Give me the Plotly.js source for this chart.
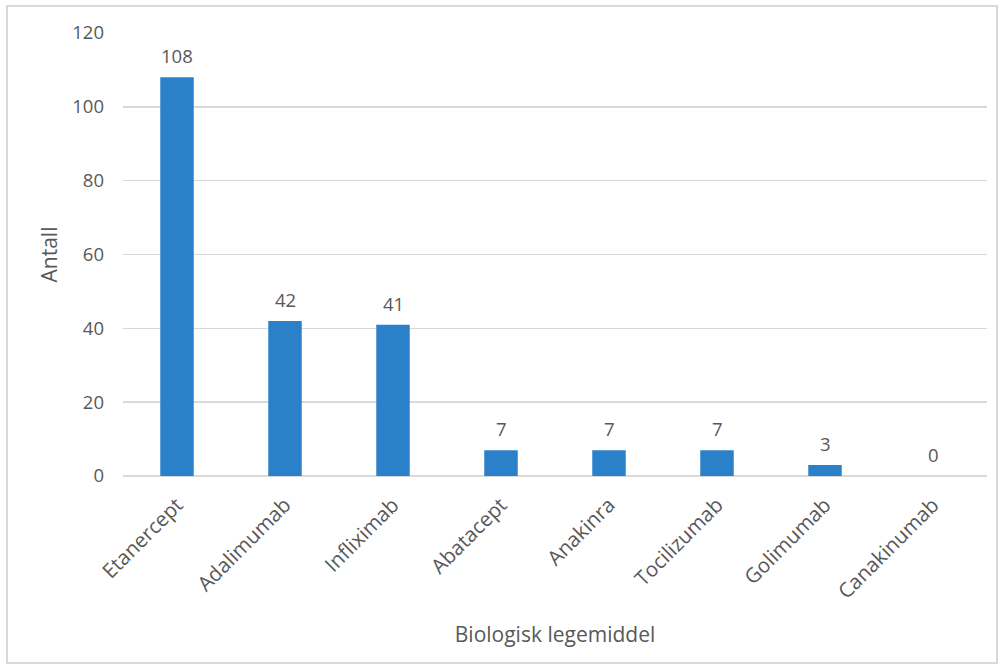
<!DOCTYPE html>
<html>
<head>
<meta charset="utf-8">
<script src="https://cdn.plot.ly/plotly-3.0.1.min.js"></script>
<style>
  html, body { margin: 0; padding: 0; background: #fff; }
  #frame { position: absolute; left: 6px; top: 5px; width: 988px; height: 655px; border: 2px solid #d9d9d9; }
  #chart { position: absolute; left: 0; top: 0; width: 1002px; height: 668px; }
</style>
</head>
<body>
<div id="frame"></div>
<div id="chart"></div>
<script>
// Number of patients per biologic drug
const drugs = ["Etanercept", "Adalimumab", "Infliximab", "Abatacept", "Anakinra", "Tocilizumab", "Golimumab", "Canakinumab"];
const counts = [108, 42, 41, 7, 7, 7, 3, 0];

const barColor = "#2a81c9";
const textColor = "#595959";
const fontFamily = "Open Sans, sans-serif";
const numSize = 18.5;
const catSize = 20.5;
const titleSize = 21;

const trace = {
  type: "bar",
  x: drugs,
  y: counts,
  width: 0.31,
  marker: { color: barColor, line: { width: 0 } },
  hoverinfo: "x+y"
};

// Value labels above each bar
const labels = drugs.map((d, i) => ({
  x: d,
  y: counts[i],
  xref: "x",
  yref: "y",
  text: String(counts[i]),
  showarrow: false,
  yanchor: "bottom",
  yshift: 7,
  font: { family: fontFamily, size: numSize, color: textColor }
}));

const layout = {
  width: 1002,
  height: 668,
  margin: { l: 123, r: 15, t: 33, b: 192 },
  paper_bgcolor: "rgba(0,0,0,0)",
  plot_bgcolor: "rgba(0,0,0,0)",
  showlegend: false,
  font: { family: fontFamily, size: numSize, color: textColor },
  xaxis: {
    type: "category",
    tickangle: -45,
    showgrid: false,
    zeroline: false,
    showline: false,
    ticks: "",
    ticklabelstandoff: 12,
    tickfont: { family: fontFamily, size: catSize, color: textColor },
    title: { text: "Biologisk legemiddel", font: { family: fontFamily, size: titleSize, color: textColor }, standoff: 24 }
  },
  yaxis: {
    range: [0, 120],
    dtick: 20,
    showgrid: true,
    gridcolor: "#d9d9d9",
    gridwidth: 1.5,
    zeroline: true,
    zerolinecolor: "#d9d9d9",
    zerolinewidth: 2,
    showline: false,
    ticks: "",
    ticklabelstandoff: 18,
    tickfont: { family: fontFamily, size: numSize, color: textColor },
    title: { text: "Antall", font: { family: fontFamily, size: titleSize, color: textColor }, standoff: 8 }
  },
  annotations: labels
};

Plotly.newPlot("chart", [trace], layout, { displayModeBar: false, staticPlot: true });
</script>
</body>
</html>
